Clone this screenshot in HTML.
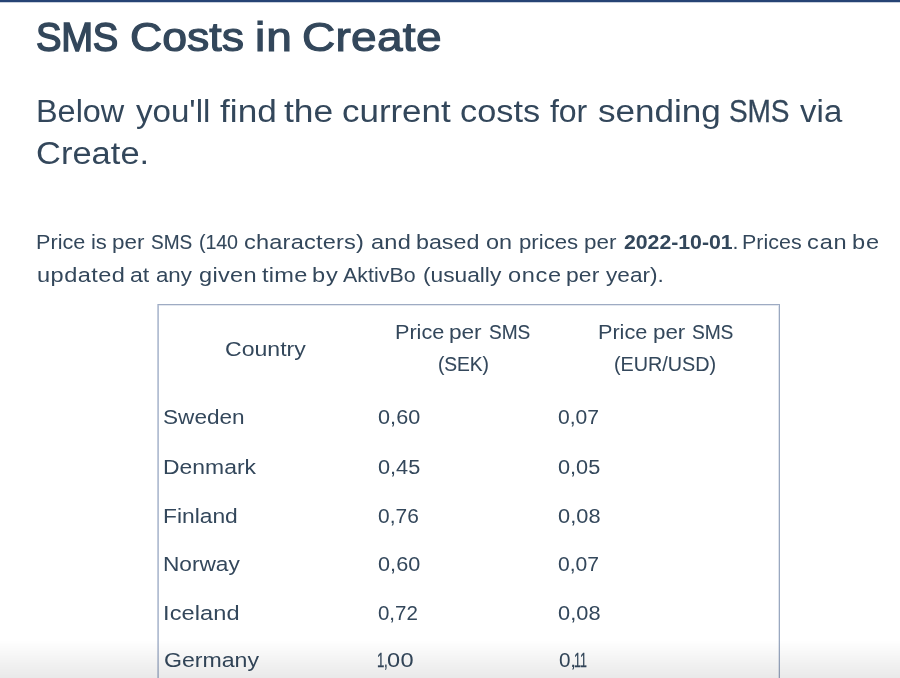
<!DOCTYPE html>
<html lang="en">
<head>
<meta charset="utf-8">
<title>SMS Costs in Create</title>
<style>
html,body{margin:0;padding:0}
body{width:900px;height:678px;overflow:hidden;position:relative;background:#fff;
  font-family:"Liberation Sans",sans-serif;color:#33475b}
.page{position:absolute;left:0;top:0;width:900px;height:678px;overflow:hidden;will-change:transform}
.topbar{position:absolute;left:0;top:0;width:900px;height:2px;background:#264374;border-bottom:1px solid #c9d0dc}
.line{position:absolute;left:0;width:900px;margin:0;padding:0;white-space:nowrap;font-weight:normal}
.w{position:absolute;top:0;display:inline-block;transform-origin:0 50%;white-space:nowrap}
.t1{font-size:40px;line-height:50px;height:50px;-webkit-text-stroke:1.1px #33475b}
.t2{font-size:31px;line-height:42px;height:42px}
.t3{font-size:20.5px;line-height:33px;height:33px}
.tc{font-size:20.5px;line-height:32px;height:32px}
#h1_0{-webkit-text-stroke-width:1.5px}
b{font-weight:bold}
.tbl{position:absolute;left:157px;top:304px;width:623px;height:374px}
.tbl i{position:absolute;display:block}
.bt1{left:1px;top:0;width:622px;height:1px;background:#9eabc3}
.bt2{left:1px;top:1px;width:621px;height:1px;background:#e3e7ee}
.bl1{left:0;top:0;width:1px;height:374px;background:#c3ccdc}
.bl2{left:1px;top:1px;width:1px;height:373px;background:#b3bed2}
.br1{left:622px;top:0;width:1px;height:374px;background:#9aa8c0}
.br2{left:621px;top:1px;width:1px;height:373px;background:#e0e5ed}
.fade{position:absolute;left:0;top:640px;width:900px;height:38px;
  background:linear-gradient(to bottom,rgba(0,0,0,0) 0%,rgba(0,0,0,0.085) 100%)}
#h1_0{left:36.00px;transform:scaleX(0.9552);letter-spacing:-0.302px}
#h1_1{left:130.00px;transform:scaleX(1.1157);letter-spacing:-0.009px}
#h1_2{left:255.00px;transform:scaleX(1.1500);letter-spacing:0.903px}
#h1_3{left:302.00px;transform:scaleX(1.1500);letter-spacing:0.247px}
#lead1_0{left:36.00px;transform:scaleX(1.0455);letter-spacing:-0.004px}
#lead1_1{left:136.00px;transform:scaleX(1.0686);letter-spacing:-0.019px}
#lead1_2{left:220.00px;transform:scaleX(1.1345);letter-spacing:0.042px}
#lead1_3{left:284.00px;transform:scaleX(1.1412);letter-spacing:-0.005px}
#lead1_4{left:342.00px;transform:scaleX(1.1280);letter-spacing:-0.024px}
#lead1_5{left:460.00px;transform:scaleX(1.1053);letter-spacing:0.052px}
#lead1_6{left:550.00px;transform:scaleX(1.0341);letter-spacing:-0.062px}
#lead1_7{left:598.00px;transform:scaleX(1.1314);letter-spacing:-0.014px}
#lead1_8{left:729.00px;transform:scaleX(0.9055);letter-spacing:-0.163px;-webkit-text-stroke:0.26px #33475b}
#lead1_9{left:800.00px;transform:scaleX(1.0622);letter-spacing:0.076px}
#lead2_0{left:36.00px;transform:scaleX(1.1115);letter-spacing:0.025px}
#body1_0{left:36.00px;transform:scaleX(1.0533);letter-spacing:0.016px}
#body1_1{left:91.00px;transform:scaleX(1.0737);letter-spacing:-0.135px}
#body1_2{left:112.00px;transform:scaleX(1.0937);letter-spacing:0.033px}
#body1_3{left:151.00px;transform:scaleX(0.9278);letter-spacing:0.033px;-webkit-text-stroke:0.13px #33475b}
#body1_4{left:199.00px;transform:scaleX(0.9595);letter-spacing:-0.114px;-webkit-text-stroke:0.07px #33475b}
#body1_5{left:244.00px;transform:scaleX(1.1500);letter-spacing:0.174px}
#body1_6{left:371.00px;transform:scaleX(1.1500);letter-spacing:0.215px}
#body1_7{left:416.00px;transform:scaleX(1.1362);letter-spacing:-0.024px}
#body1_8{left:486.00px;transform:scaleX(1.1440);letter-spacing:0.049px}
#body1_9{left:519.00px;transform:scaleX(1.0818);letter-spacing:0.005px}
#body1_10{left:584.00px;transform:scaleX(1.0937);letter-spacing:0.033px}
#body1_11{left:624.00px;transform:scaleX(1.0377);letter-spacing:-0.024px}
#body1_12{left:742.00px;transform:scaleX(1.0445);letter-spacing:0.021px}
#body1_13{left:807.00px;transform:scaleX(1.1500);letter-spacing:0.746px}
#body1_14{left:852.00px;transform:scaleX(1.1500);letter-spacing:0.720px}
#body2_0{left:37.00px;transform:scaleX(1.1500);letter-spacing:0.395px}
#body2_1{left:130.00px;transform:scaleX(1.1277);letter-spacing:-0.069px}
#body2_2{left:156.00px;transform:scaleX(1.0879);letter-spacing:-0.054px}
#body2_3{left:199.00px;transform:scaleX(1.1500);letter-spacing:0.269px}
#body2_4{left:262.00px;transform:scaleX(1.1500);letter-spacing:0.235px}
#body2_5{left:312.00px;transform:scaleX(1.1500);letter-spacing:0.826px}
#body2_6{left:343.00px;transform:scaleX(1.0414);letter-spacing:0.023px}
#body2_7{left:423.00px;transform:scaleX(1.1093);letter-spacing:-0.012px}
#body2_8{left:508.00px;transform:scaleX(1.1500);letter-spacing:0.580px}
#body2_9{left:566.00px;transform:scaleX(1.1150);letter-spacing:0.100px}
#body2_10{left:606.00px;transform:scaleX(1.1029);letter-spacing:-0.001px}
#th1_0{left:225.00px;transform:scaleX(1.1249);letter-spacing:0.006px}
#th2a_0{left:395.00px;transform:scaleX(1.0579);letter-spacing:-0.034px}
#th2a_1{left:449.00px;transform:scaleX(1.1060);letter-spacing:-0.045px}
#th2a_2{left:489.00px;transform:scaleX(0.9306);letter-spacing:-0.036px;-webkit-text-stroke:0.13px #33475b}
#th2b_0{left:438.00px;transform:scaleX(0.9385);letter-spacing:-0.136px;-webkit-text-stroke:0.11px #33475b}
#th3a_0{left:598.00px;transform:scaleX(1.0579);letter-spacing:-0.034px}
#th3a_1{left:653.00px;transform:scaleX(1.0912);letter-spacing:-0.031px}
#th3a_2{left:692.00px;transform:scaleX(0.9377);letter-spacing:-0.127px;-webkit-text-stroke:0.11px #33475b}
#th3b_0{left:614.00px;transform:scaleX(0.9661);letter-spacing:-0.032px;-webkit-text-stroke:0.06px #33475b}
#r1_0{left:163.00px;transform:scaleX(1.1001);letter-spacing:0.025px}
#r1_1{left:378.00px;transform:scaleX(1.0551);letter-spacing:0.084px}
#r1_2{left:558.00px;transform:scaleX(1.0287);letter-spacing:0.007px}
#r2_0{left:163.00px;transform:scaleX(1.1175);letter-spacing:0.020px}
#r2_1{left:378.00px;transform:scaleX(1.0591);letter-spacing:0.002px}
#r2_2{left:558.00px;transform:scaleX(1.0596);letter-spacing:0.002px}
#r3_0{left:163.00px;transform:scaleX(1.1125);letter-spacing:-0.009px}
#r3_1{left:378.00px;transform:scaleX(1.0185);letter-spacing:0.036px}
#r3_2{left:558.00px;transform:scaleX(1.0611);letter-spacing:0.047px}
#r4_0{left:163.00px;transform:scaleX(1.1061);letter-spacing:-0.019px}
#r4_1{left:378.00px;transform:scaleX(1.0551);letter-spacing:0.084px}
#r4_2{left:558.00px;transform:scaleX(1.0287);letter-spacing:0.007px}
#r5_0{left:163.00px;transform:scaleX(1.1500);letter-spacing:0.076px}
#r5_1{left:378.00px;transform:scaleX(0.9996);letter-spacing:-0.035px}
#r5_2{left:558.00px;transform:scaleX(1.0611);letter-spacing:0.047px}
#r6_0{left:164.00px;transform:scaleX(1.1279);letter-spacing:-0.021px}
#r6_1{left:377.00px;transform:scaleX(0.6421);letter-spacing:-0.476px;-webkit-text-stroke:0.30px #33475b}
#r6_2{left:387.00px;transform:scaleX(1.1500);letter-spacing:0.290px}
#r6_3{left:559.00px;transform:scaleX(1.0093);letter-spacing:-0.132px}
#r6_4{left:574.00px;transform:scaleX(0.6030);letter-spacing:-0.120px;-webkit-text-stroke:0.30px #33475b}
</style>
</head>
<body>
<div class="page">
<div class="topbar"></div>
<h1 class="line t1" style="top:12.0px"><span class="w" id="h1_0">SMS</span> <span class="w" id="h1_1">Costs</span> <span class="w" id="h1_2">in</span> <span class="w" id="h1_3">Create</span></h1>
<p class="line t2" style="top:91.0px"><span class="w" id="lead1_0">Below</span> <span class="w" id="lead1_1">you'll</span> <span class="w" id="lead1_2">find</span> <span class="w" id="lead1_3">the</span> <span class="w" id="lead1_4">current</span> <span class="w" id="lead1_5">costs</span> <span class="w" id="lead1_6">for</span> <span class="w" id="lead1_7">sending</span> <span class="w" id="lead1_8">SMS</span> <span class="w" id="lead1_9">via</span></p>
<p class="line t2" style="top:133.0px"><span class="w" id="lead2_0">Create.</span></p>
<p class="line t3" style="top:224.5px"><span class="w" id="body1_0">Price</span> <span class="w" id="body1_1">is</span> <span class="w" id="body1_2">per</span> <span class="w" id="body1_3">SMS</span> <span class="w" id="body1_4">(140</span> <span class="w" id="body1_5">characters)</span> <span class="w" id="body1_6">and</span> <span class="w" id="body1_7">based</span> <span class="w" id="body1_8">on</span> <span class="w" id="body1_9">prices</span> <span class="w" id="body1_10">per</span> <span class="w" id="body1_11"><b>2022-10-01</b>.</span> <span class="w" id="body1_12">Prices</span> <span class="w" id="body1_13">can</span> <span class="w" id="body1_14">be</span></p>
<p class="line t3" style="top:257.5px"><span class="w" id="body2_0">updated</span> <span class="w" id="body2_1">at</span> <span class="w" id="body2_2">any</span> <span class="w" id="body2_3">given</span> <span class="w" id="body2_4">time</span> <span class="w" id="body2_5">by</span> <span class="w" id="body2_6">AktivBo</span> <span class="w" id="body2_7">(usually</span> <span class="w" id="body2_8">once</span> <span class="w" id="body2_9">per</span> <span class="w" id="body2_10">year).</span></p>
<div class="tbl"><i class="bt2"></i><i class="bl1"></i><i class="bl2"></i><i class="br2"></i><i class="br1"></i><i class="bt1"></i></div>
<div class="line tc th" style="top:332.5px"><span class="w" id="th1_0">Country</span></div>
<div class="line tc th" style="top:315.8px"><span class="w" id="th2a_0">Price</span> <span class="w" id="th2a_1">per</span> <span class="w" id="th2a_2">SMS</span></div>
<div class="line tc th" style="top:348.3px"><span class="w" id="th2b_0">(SEK)</span></div>
<div class="line tc th" style="top:315.8px"><span class="w" id="th3a_0">Price</span> <span class="w" id="th3a_1">per</span> <span class="w" id="th3a_2">SMS</span></div>
<div class="line tc th" style="top:348.3px"><span class="w" id="th3b_0">(EUR/USD)</span></div>
<div class="line tc tr" style="top:400.5px"><span class="w" id="r1_0">Sweden</span> <span class="w" id="r1_1">0,60</span> <span class="w" id="r1_2">0,07</span></div>
<div class="line tc tr" style="top:450.5px"><span class="w" id="r2_0">Denmark</span> <span class="w" id="r2_1">0,45</span> <span class="w" id="r2_2">0,05</span></div>
<div class="line tc tr" style="top:499.5px"><span class="w" id="r3_0">Finland</span> <span class="w" id="r3_1">0,76</span> <span class="w" id="r3_2">0,08</span></div>
<div class="line tc tr" style="top:547.5px"><span class="w" id="r4_0">Norway</span> <span class="w" id="r4_1">0,60</span> <span class="w" id="r4_2">0,07</span></div>
<div class="line tc tr" style="top:596.5px"><span class="w" id="r5_0">Iceland</span> <span class="w" id="r5_1">0,72</span> <span class="w" id="r5_2">0,08</span></div>
<div class="line tc tr" style="top:644.0px"><span class="w" id="r6_0">Germany</span> <span class="w" id="r6_1">1,</span><span class="w" id="r6_2">00</span> <span class="w" id="r6_3">0,</span><span class="w" id="r6_4">11</span></div>
<div class="fade"></div>
</div>
</body>
</html>
